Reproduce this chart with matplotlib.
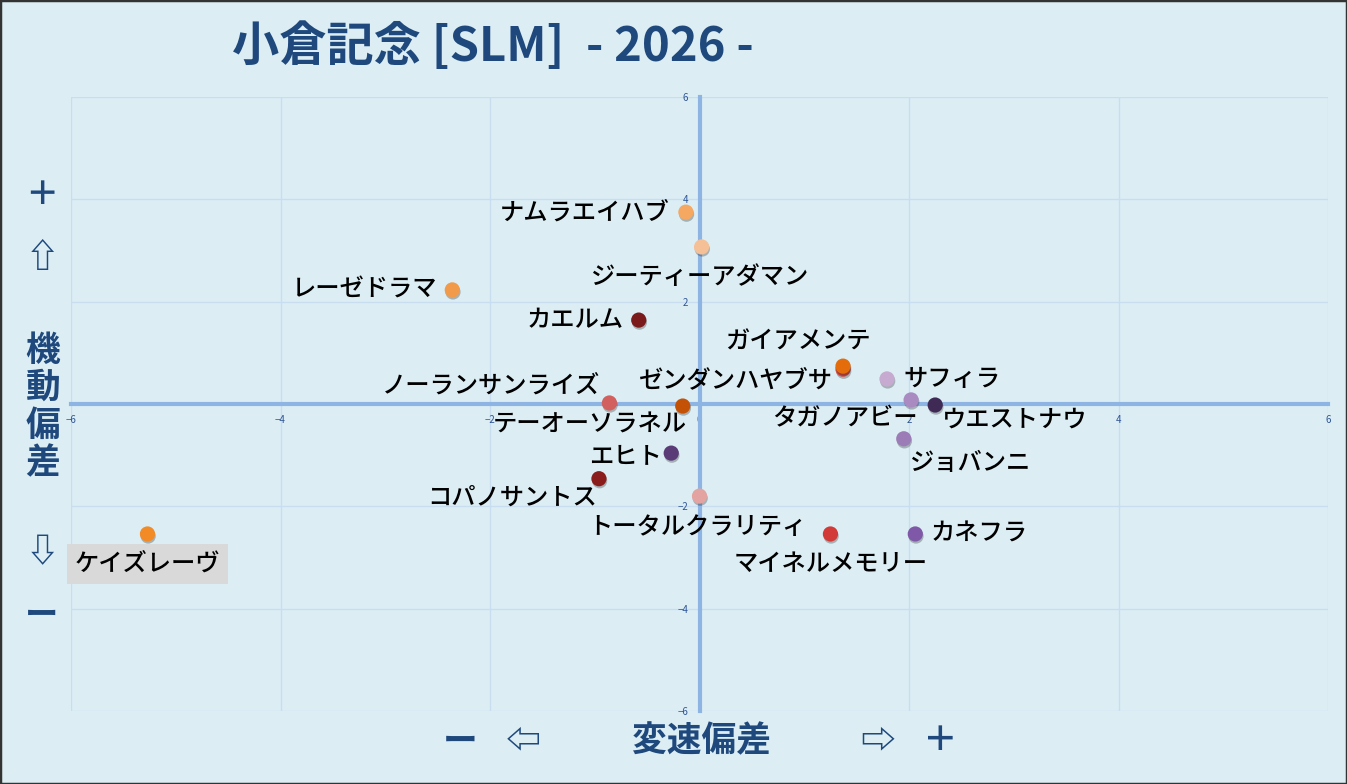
import matplotlib
matplotlib.use("Agg")
import matplotlib.pyplot as plt
import matplotlib.patheffects as pe
from matplotlib.patches import Rectangle

plt.rcParams['font.family'] = ['Noto Sans CJK JP', 'DejaVu Sans']

# data
horses = ["ナムラエイハブ", "ジーティーアダマン", "レーゼドラマ", "カエルム",
          "ゼンダンハヤブサ", "ガイアメンテ", "サフィラ", "ノーランサンライズ",
          "テーオーソラネル", "タガノアビー", "ウエストナウ", "ジョバンニ",
          "エヒト", "コパノサントス", "トータルクラリティ", "マイネルメモリー",
          "カネフラ", "ケイズレーヴ"]
speed_dev = [-0.13, 0.02, -2.36, -0.58, 1.37, 1.37, 1.79, -0.86,
             -0.16, 2.02, 2.25, 1.95, -0.27, -0.96, 0.0, 1.25, 2.06, -5.27]
mobility_dev = [3.75, 3.07, 2.23, 1.64, 0.68, 0.74, 0.49, 0.02,
                -0.04, 0.08, -0.02, -0.68, -0.96, -1.46, -1.80, -2.54, -2.54, -2.54]

colors = ["#F4A862", "#F6C096", "#F19A4A", "#7A1A1A", "#CF4E4A", "#E46C0A",
          "#C6AACF", "#D2605E", "#C45206", "#A98BC2", "#3E2A55", "#9C7CB7",
          "#5A3B78", "#8A1C1C", "#E3A3A1", "#D23A38", "#7F58A8", "#F28A26"]
# label placement: (dx, dy) in pixels and horizontal anchor
offsets = [(-16, 0), (-1, -30), (-15, 0), (-15, 0), (-10, -11), (-45, 25),
           (16, 0), (-9, 17), (4, -19), (7, -18), (7, -15), (6, -24),
           (-9, -3), (-2, -19), (-2, -31), (0, -30), (15, 0), (0, -30)]
anchors = ["right", "center", "right", "right", "right", "center",
           "left", "right", "right", "right", "left", "left",
           "right", "right", "center", "center", "left", "center"]

bg = "#DCEEF4"
navy = "#1F497D"
axis_blue = "#8DB4E2"

fig = plt.figure(figsize=(13.47, 7.84), dpi=100, facecolor=bg)
ax = fig.add_axes([71/1347, 73/784, 1257/1347, 614/784])
ax.set_facecolor(bg)

ax.set_xlim(-6, 6)
ax.set_ylim(-6, 6)
ax.set_xticks(range(-6, 7, 2))
ax.set_yticks(range(-6, 7, 2))
ax.grid(True, color="#C9DDF0", linewidth=1)
ax.set_axisbelow(True)

for s in ["top", "right"]:
    ax.spines[s].set_visible(False)
ax.spines["left"].set_position("zero")
ax.spines["bottom"].set_position("zero")
for s in ["left", "bottom"]:
    ax.spines[s].set_color(axis_blue)
    ax.spines[s].set_linewidth(3)
    ax.spines[s].set_zorder(1.5)
ax.tick_params(length=0, labelsize=7, labelcolor="#2F5597", pad=8)

shadow = [pe.SimplePatchShadow(offset=(0.5, -1.5), shadow_rgbFace="k", alpha=0.25),
          pe.Normal()]
for i, name in enumerate(horses):
    ax.scatter(speed_dev[i], mobility_dev[i], s=120, color=colors[i],
               zorder=3, path_effects=shadow, linewidths=0)
    kw = {}
    if name == "ケイズレーヴ":
        kw["bbox"] = dict(boxstyle="square,pad=0.3", fc="#D9D9D9", ec="none")
    ax.annotate(name, (speed_dev[i], mobility_dev[i]), xytext=offsets[i],
                textcoords="offset pixels", ha=anchors[i], va="center",
                fontsize=17.5, color="black", fontweight="medium", zorder=4, **kw)

# title
fig.text(232/1347, 1 - 47/784, "小倉記念 [SLM]  - 2026 -", fontsize=34,
         fontweight="bold", color=navy, ha="left", va="center")

# vertical axis label
ylab = [("＋", 195), ("⇧", 258), ("⇩", 553), ("ー", 615)]
for t, yy in ylab:
    fig.text(42/1347, 1 - yy/784, t, fontsize=24, fontweight="bold",
             color=navy, ha="center", va="center")
for k, ch in enumerate("機動偏差"):
    fig.text(43/1347, 1 - (350 + 37.5*k)/784, ch, fontsize=25,
             fontweight="bold", color=navy, ha="center", va="center")

# horizontal axis label
xlab = [("ー", 460), ("⇦", 523), ("変速偏差", 701), ("⇨", 878), ("＋", 940)]
for t, xx in xlab:
    fig.text(xx/1347, 1 - 741/784, t, fontsize=25, fontweight="bold",
             color=navy, ha="center", va="center")

fig.patches.append(Rectangle((0, 0), 1, 1, transform=fig.transFigure,
                             fill=False, ec="#333333", lw=2.5))

fig.savefig("out.png", dpi=100, facecolor=bg)
